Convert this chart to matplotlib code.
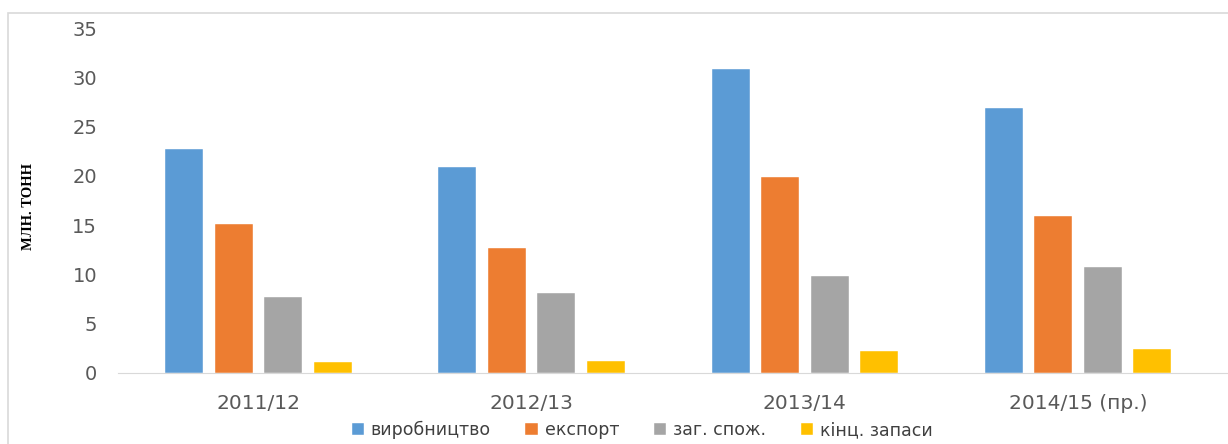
import matplotlib.pyplot as plt
from matplotlib.patches import Rectangle
import numpy as np

# data (mln tonnes)
years = ["2011/12", "2012/13", "2013/14", "2014/15 (пр.)"]
production = [22.7, 20.9, 30.8, 26.9]
export = [15.1, 12.7, 19.9, 15.9]
consumption = [7.7, 8.1, 9.8, 10.8]
stocks = [1.1, 1.2, 2.2, 2.4]

series = [
    ("виробництво", production, "#5b9bd5"),
    ("експорт", export, "#ed7d31"),
    ("заг. спож.", consumption, "#a5a5a5"),
    ("кінц. запаси", stocks, "#ffc000"),
]

plt.rcParams['font.family'] = ['DejaVu Sans']

fig = plt.figure(figsize=(12.28, 4.44), dpi=100)
ax = fig.add_axes([118/1228, 1-373/444, (1228-118)/1228, (373-28)/444])

# light border round the whole chart
fig.patches.append(Rectangle((8/1228, -0.05), 1.05, 1-13/444+0.05, transform=fig.transFigure,
                             fill=False, edgecolor="#d9d9d9", linewidth=1.2))

x = np.arange(len(years))
w = 0.139
step = 0.181
for i, (name, vals, col) in enumerate(series):
    ax.bar(x + (i-1.5)*step, vals, w, color=col, label=name, edgecolor="white", linewidth=0.3)

ax.set_xlim(-0.514, 3.549)
ax.set_ylim(0, 35)
ax.set_yticks(range(0, 36, 5))
ax.set_xticks(x)
ax.set_xticklabels(years)
ax.tick_params(axis='y', length=0, pad=15, labelsize=14, labelcolor="#595959")
ax.tick_params(axis='x', length=0, pad=15, labelsize=14.5, labelcolor="#595959")
for s in ["top", "right", "left"]:
    ax.spines[s].set_visible(False)
ax.spines["bottom"].set_color("#d9d9d9")

fig.text(29/1228, 1-206/444, "МЛН. ТОНН", rotation=90, ha="center", va="center",
         family="Liberation Serif", fontweight="bold", fontsize=10.5, color="#000000")

leg = fig.legend(loc="center", bbox_to_anchor=(642/1228, 1-430/444), ncol=4, frameon=False,
                 fontsize=12.5, handlelength=0.7, handleheight=0.7, handletextpad=0.4,
                 columnspacing=2.0, labelcolor="#404040")

plt.savefig("out.png", dpi=100)
